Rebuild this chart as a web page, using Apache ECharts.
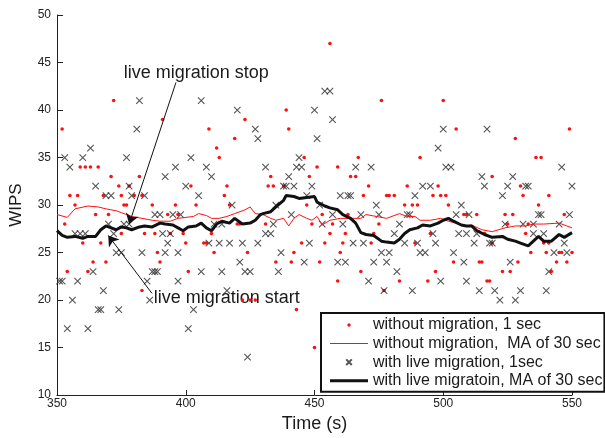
<!DOCTYPE html>
<html>
<head>
<meta charset="utf-8">
<script src="https://cdn.jsdelivr.net/npm/echarts@6.0.0/dist/echarts.min.js"></script>
<style>
html,body{margin:0;padding:0;background:#fff;}
#chart{width:605px;height:438px;}
</style>
</head>
<body>
<div id="chart"></div>
<script>
// ---------- data ----------
const xTicks = [350, 400, 450, 500, 550];
const yTicks = [10, 15, 20, 25, 30, 35, 40, 45, 50];

// without migration, 1 sec  [time, WIPS]
const noMigDots = [
  [352,38],[372,41],[359,34],[361,34],[363,34],[366,34],[371,33],[382,33],[374,32],[378,32],
  [355,31],[358,31],[368,31],[375,31],[380,31],[383,31],[357,30],[376,30],[377,30],[387,30],
  [365,29],[370,29],[353,28],[384,27],[388,27],[375,27],[367,26],[360,26],[364,24],[369,24],
  [389,25],[354,23],[362,23],[383,21],
  [391,39],[409,38],[423,39],[419,37],[412,36],[413,35],[416,32],[415,31],[402,32],[396,30],
  [404,30],[417,30],[393,29],[397,29],[399,27],[394,27],[410,27],[400,26],[407,26],[408,26],
  [420,28],[421,28],[411,25],[424,25],[390,24],[401,23],[422,20],[425,20],[427,20],
  [456,47],[439,40],[440,38],[446,35],[467,35],[451,34],[459,34],[433,33],[448,33],[464,33],
  [466,33],[432,32],[434,32],[438,32],[447,30],[469,31],[453,29],[431,28],[449,28],[457,28],
  [463,29],[456,27],[462,27],[445,26],[454,26],[461,26],[442,25],[460,25],[435,24],[441,24],
  [452,24],[468,23],[459,22],[443,19],[450,15],
  [476,41],[500,41],[505,38],[491,35],[471,32],[486,32],[498,32],[478,31],[479,31],[481,31],
  [496,31],[499,31],[501,31],[485,30],[488,30],[490,30],[502,30],[508,29],[509,29],[475,28],
  [473,27],[495,27],[472,26],[489,26],[504,24],[497,23],[483,22],[494,22],[477,21],
  [549,38],[528,37],[536,35],[538,35],[519,33],[530,32],[531,31],[541,31],[537,30],[513,29],
  [524,29],[527,29],[547,29],[525,28],[533,28],[516,27],[532,27],[519,26],[539,26],[541,26],
  [534,25],[540,25],[545,25],[546,25],[550,25],[514,24],[515,24],[529,24],[544,24],[548,24],
  [523,23],[526,23],[542,23],[517,22],[518,22]
];

// without migration, MA of 30 sec
const noMigMaX = [350,354,357,362,366,369,373,375,379,383,387,390,394,397,403,405,408,410,413,416,
  419,423,425,427,430,433,435,438,440,442,444,447,449,451,453,456,460,464,468,470,
  474,478,483,486,489,491,495,499,502,505,508,511,515,519,524,528,532,535,539,545,548,550];
const noMigMaY = [29.0,28.7,29.6,29.9,29.8,29.6,29.4,29.2,28.8,28.6,28.4,28.3,28.3,28.6,28.8,29.1,28.9,28.6,28.6,28.8,
  29.1,29.5,29.8,29.1,29.0,28.6,28.4,28.6,27.8,28.6,29.0,28.6,28.4,28.8,27.9,28.4,28.6,28.6,28.6,29.0,
  28.8,28.6,29.1,28.8,28.8,28.4,28.4,28.6,28.3,28.1,27.8,27.9,27.4,27.2,27.6,27.8,27.8,28.0,28.0,28.1,27.8,27.6];

// with live migration, 1sec
const liveDots = [
  [382,41],[381,38],[363,36],[353,35],[360,35],[377,35],[355,34],[365,32],[378,32],[369,31],
  [371,31],[379,31],[384,31],[388,29],[370,28],[376,28],[378,28],[357,27],[359,27],[361,27],
  [372,27],[373,25],[375,25],[383,25],[387,23],[388,23],[389,23],[364,23],[351,22],[352,22],
  [358,22],[385,22],[368,21],[356,20],[386,20],[366,19],[367,19],[374,19],[354,17],[362,17],
  [406,41],[420,40],[427,38],[428,37],[402,35],[396,34],[408,34],[392,33],[410,33],[400,32],
  [405,31],[418,30],[390,29],[395,29],[398,29],[411,28],[414,28],[391,27],[394,27],[393,26],
  [409,26],[413,26],[417,26],[422,26],[428,26],[392,25],[397,25],[421,24],[406,23],[414,23],
  [423,23],[425,23],[397,22],[416,21],[403,19],[401,17],[424,14],
  [454,42],[456,42],[450,40],[457,39],[451,37],[444,35],[431,34],[443,34],[445,34],[466,34],
  [440,33],[438,32],[439,32],[442,32],[449,32],[460,31],[463,31],[464,31],[447,31],[435,30],
  [452,30],[441,29],[457,29],[468,29],[434,28],[453,28],[461,28],[431,27],[433,27],[448,26],
  [465,26],[469,26],[437,25],[446,24],[459,24],[462,24],[436,23],
  [500,38],[498,36],[472,34],[501,34],[503,34],[492,32],[495,32],[489,31],[474,30],[507,30],
  [475,29],[486,29],[487,29],[505,29],[510,29],[483,28],[481,27],[496,27],[506,27],[509,27],
  [485,26],[490,26],[497,26],[476,25],[479,25],[491,25],[493,25],[504,25],[473,24],[478,24],
  [508,24],[482,23],[471,22],[499,22],[509,22],[477,21],[488,21],
  [517,38],[546,34],[515,33],[527,33],[516,32],[525,32],[532,32],[533,32],[550,32],[523,31],
  [537,29],[538,29],[549,29],[524,28],[531,28],[535,28],[545,28],[513,27],[535,27],[539,27],
  [512,26],[518,26],[519,26],[547,26],[543,25],[548,25],[526,24],[541,23],[514,21],[520,21],
  [530,21],[540,21],[522,20],[528,20]
];

// with live migratoin, MA of 30 sec
const liveMaX = [350,352,354,357,360,362,365,367,369,371,373,375,377,379,382,384,387,390,392,395,
  397,399,401,404,406,408,410,412,414,417,419,422,425,427,429,430,433,435,438,439,
  442,444,447,450,451,454,456,459,461,464,466,468,470,473,476,478,481,483,485,487,
  490,492,495,498,500,502,504,507,509,511,513,516,519,523,525,528,530,533,535,537,
  539,542,545,547,550];
const liveMaY = [27.3,26.8,26.6,26.7,26.5,26.7,26.7,27.4,27.8,27.6,27.4,27.7,27.6,27.4,27.7,27.8,27.7,28.1,28.0,27.9,
  27.6,27.3,27.7,27.8,28.1,27.6,27.3,28.0,28.3,28.1,28.6,28.0,28.1,28.4,29.0,29.1,29.3,29.8,30.5,31.0,
  30.9,30.7,30.8,30.9,30.3,29.9,29.7,29.5,29.0,28.6,28.1,27.1,26.9,26.8,26.2,26.1,26.0,26.4,27.0,27.4,
  27.6,27.9,27.8,28.1,28.4,28.6,28.3,27.9,27.8,27.8,27.3,26.9,26.6,26.7,26.4,26.2,26.0,25.7,26.2,26.7,
  26.2,26.2,26.9,26.6,27.1];

const seriesNames = [
  'without migration, 1 sec',
  'without migration,  MA of 30 sec',
  'with live migration, 1sec',
  'with live migratoin, MA of 30 sec'
];

// annotations (data coordinates)
const stopArrow = [[396.2, 42.9], [378.0, 28.0]];
const startArrow = [[386.9, 20.7], [369.9, 26.8]];
const stopLabel = {text: 'live migration stop', at: [375.9, 43.9]};
const startLabel = {text: 'live migration start', at: [387.6, 20.2]};

// ---------- chart ----------
const FONT = 'Liberation Sans, Arial, Helvetica, sans-serif';
const zip = (xs, ys) => xs.map((x, i) => [x, ys[i]]);
const chart = echarts.init(document.getElementById('chart'), null, {renderer: 'canvas'});

const option = {
  animation: false,
  backgroundColor: '#fff',
  textStyle: {fontFamily: FONT},
  grid: {left: 57, right: 33, top: 15, bottom: 38, containLabel: false},
  xAxis: {
    type: 'value', min: xTicks[0], max: xTicks[xTicks.length - 1], interval: 50,
    name: 'Time (s)', nameLocation: 'middle', nameGap: 14,
    nameTextStyle: {fontSize: 18, color: '#1a1a1a', fontFamily: FONT, verticalAlign: 'top'},
    axisLine: {show: true, onZero: false, lineStyle: {color: '#222', width: 1}},
    axisTick: {show: true, inside: true, length: 5, lineStyle: {color: '#222'}},
    axisLabel: {fontSize: 12, color: '#222', margin: 3, fontFamily: FONT},
    splitLine: {show: false}
  },
  yAxis: {
    type: 'value', min: yTicks[0], max: yTicks[yTicks.length - 1], interval: 5,
    name: 'WIPS', nameLocation: 'middle', nameGap: 32, nameRotate: 90,
    nameTextStyle: {fontSize: 17, color: '#1a1a1a', fontFamily: FONT},
    axisLine: {show: true, onZero: false, lineStyle: {color: '#222', width: 1}},
    axisTick: {show: true, inside: true, length: 6, lineStyle: {color: '#222'}},
    axisLabel: {fontSize: 12, color: '#222', margin: 6, fontFamily: FONT},
    splitLine: {show: false}
  },
  legend: {
    orient: 'vertical', left: 321, top: 313,
    padding: [4, 2, 3, 8], itemGap: 2.6, itemWidth: 38, itemHeight: 8,
    backgroundColor: '#fff', borderColor: '#111', borderWidth: 2, borderRadius: 0,
    textStyle: {fontSize: 16, color: '#1a1a1a', fontFamily: FONT},
    selectedMode: false,
    data: [
      {name: seriesNames[0], icon: 'path://M0,0M38,8M17.3,4a1.7,1.7 0 1,0 3.4,0a1.7,1.7 0 1,0 -3.4,0'},
      {name: seriesNames[1], icon: 'path://M0,0M38,8M0,3.5h38v1h-38z'},
      {name: seriesNames[2], icon: 'path://M0,0M38,8M16.2,1.2L21.8,6.8M21.8,1.2L16.2,6.8'},
      {name: seriesNames[3], icon: 'path://M0,0M38,8M0,2.5h38v3h-38z'}
    ]
  },
  series: [
    {
      name: seriesNames[0], type: 'scatter', data: noMigDots,
      symbol: 'circle', symbolSize: 3.6,
      itemStyle: {color: '#ff1010', opacity: 1}, silent: true
    },
    {
      name: seriesNames[1], type: 'line', data: zip(noMigMaX, noMigMaY),
      symbol: 'none', showSymbol: false, smooth: false,
      lineStyle: {color: '#ff1010', width: 1}, itemStyle: {color: '#ff1010'}, silent: true
    },
    {
      name: seriesNames[2], type: 'scatter', data: liveDots,
      symbol: 'path://M0,0L10,10M10,0L0,10', symbolSize: 6.5,
      itemStyle: {color: 'rgba(0,0,0,0)', borderColor: '#2a2a2a', borderWidth: 1.1}, silent: true
    },
    {
      name: seriesNames[3], type: 'line', data: zip(liveMaX, liveMaY),
      symbol: 'none', showSymbol: false, smooth: false,
      lineStyle: {color: '#111', width: 3}, itemStyle: {color: '#111'}, silent: true,
      markLine: {
        silent: true, animation: false,
        symbol: ['none', 'arrow'], symbolSize: 10,
        label: {show: false},
        lineStyle: {color: '#111', width: 1, type: 'solid'},
        itemStyle: {color: '#111'},
        emphasis: {disabled: true},
        data: [
          [{coord: stopArrow[0]}, {coord: stopArrow[1]}],
          [{coord: startArrow[0]}, {coord: startArrow[1]}]
        ]
      }
    }
  ]
};
chart.setOption(option);

const p1 = chart.convertToPixel({gridIndex: 0}, stopLabel.at);
const p2 = chart.convertToPixel({gridIndex: 0}, startLabel.at);
chart.setOption({
  graphic: [
    {type: 'text', x: p1[0], y: p1[1], silent: true,
     style: {text: stopLabel.text, font: '18px ' + FONT, fill: '#1a1a1a', textAlign: 'left', textVerticalAlign: 'middle'}},
    {type: 'text', x: p2[0], y: p2[1], silent: true,
     style: {text: startLabel.text, font: '18px ' + FONT, fill: '#1a1a1a', textAlign: 'left', textVerticalAlign: 'middle'}}
  ]
});
</script>
</body>
</html>
